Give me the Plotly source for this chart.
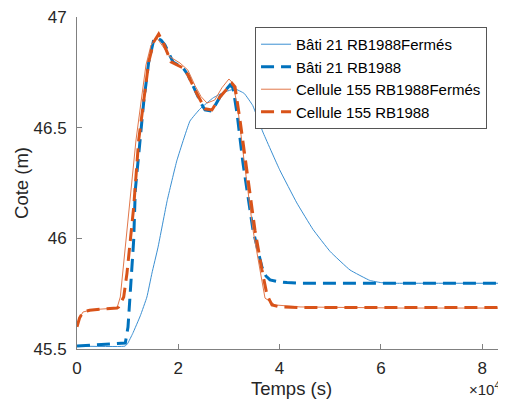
import plotly.graph_objects as go

# time in units of 1e4 s
t_bati_fermes = [0, 0.948, 1.0, 1.1, 1.25, 1.38, 1.48, 1.6, 1.78, 1.97, 2.23, 2.43, 2.69, 2.9, 3.12, 3.3, 3.47, 3.67, 4.0, 4.34, 4.66, 5.0, 5.39, 5.78, 6.0, 6.24, 7.0, 8.47]
y_bati_fermes = [45.513, 45.513, 45.525, 45.57, 45.65, 45.735, 45.843, 45.96, 46.17, 46.35, 46.53, 46.585, 46.635, 46.66, 46.675, 46.655, 46.6, 46.48, 46.31, 46.16, 46.04, 45.94, 45.857, 45.81, 45.8, 45.797, 45.797, 45.797]

t_bati = [0, 0.954, 1.007, 1.052, 1.086, 1.119, 1.151, 1.25, 1.317, 1.416, 1.514, 1.56, 1.66, 1.737, 1.895, 2.093, 2.191, 2.33, 2.45, 2.527, 2.665, 2.823, 3.021, 3.08, 3.159, 3.277, 3.475, 3.652, 3.73, 3.81, 3.95, 4.146, 4.403, 8.47]
y_bati = [45.513, 45.527, 45.599, 45.766, 45.88, 45.992, 46.218, 46.444, 46.616, 46.797, 46.896, 46.908, 46.895, 46.873, 46.797, 46.77, 46.738, 46.67, 46.61, 46.58, 46.575, 46.639, 46.693, 46.679, 46.566, 46.34, 46.037, 45.87, 45.83, 45.812, 45.805, 45.8, 45.797, 45.797]

t_cell_fermes = [0, 0.05, 0.118, 0.25, 0.454, 0.79, 0.855, 0.908, 0.967, 1.066, 1.165, 1.264, 1.362, 1.461, 1.579, 1.678, 1.836, 2.034, 2.19, 2.33, 2.45, 2.567, 2.72, 2.86, 3.0, 3.08, 3.18, 3.297, 3.475, 3.613, 3.712, 3.909, 4.403, 6.377, 8.47]
y_cell_fermes = [45.6, 45.64, 45.667, 45.675, 45.68, 45.685, 45.735, 45.857, 45.992, 46.218, 46.444, 46.616, 46.783, 46.873, 46.905, 46.873, 46.82, 46.792, 46.76, 46.69, 46.64, 46.611, 46.625, 46.68, 46.72, 46.70, 46.58, 46.354, 46.037, 45.857, 45.73, 45.699, 45.69, 45.685, 45.685]

t_cell = [0, 0.05, 0.118, 0.25, 0.454, 0.79, 0.823, 0.922, 0.987, 1.052, 1.119, 1.218, 1.317, 1.416, 1.514, 1.613, 1.698, 1.777, 1.856, 2.093, 2.191, 2.33, 2.527, 2.665, 2.823, 3.06, 3.12, 3.218, 3.336, 3.514, 3.652, 3.751, 3.85, 4.0, 4.4, 8.47]
y_cell = [45.6, 45.64, 45.667, 45.675, 45.68, 45.685, 45.69, 45.735, 45.843, 45.992, 46.141, 46.444, 46.616, 46.797, 46.887, 46.923, 46.887, 46.842, 46.797, 46.77, 46.738, 46.67, 46.585, 46.58, 46.639, 46.70, 46.684, 46.535, 46.331, 46.037, 45.857, 45.744, 45.699, 45.69, 45.687, 45.687]

x_ticks = [0, 2, 4, 6, 8]
y_ticks = [45.5, 46, 46.5, 47]

BLUE = "#0072BD"
ORANGE = "#D95319"
BLUE_THIN = "#3a8fd2"
ORANGE_THIN = "#e2774a"
FONT = "Liberation Sans, Arial, sans-serif"
AX = "#262626"

def sc(ts):
    return [v * 1e4 for v in ts]

fig = go.Figure()
fig.add_trace(go.Scatter(x=sc(t_bati_fermes), y=y_bati_fermes, mode="lines",
                         name="Bâti 21 RB1988Fermés", line=dict(color=BLUE_THIN, width=1, shape="spline", smoothing=0.3)))
fig.add_trace(go.Scatter(x=sc(t_bati), y=y_bati, mode="lines",
                         name="Bâti 21 RB1988", line=dict(color=BLUE, width=3, dash="13px,7px")))
fig.add_trace(go.Scatter(x=sc(t_cell_fermes), y=y_cell_fermes, mode="lines",
                         name="Cellule 155 RB1988Fermés", line=dict(color=ORANGE_THIN, width=1)))
fig.add_trace(go.Scatter(x=sc(t_cell), y=y_cell, mode="lines",
                         name="Cellule 155 RB1988", line=dict(color=ORANGE, width=3, dash="13px,7px")))

fig.update_layout(
    width=498, height=393,
    margin=dict(l=69, r=0, t=9, b=52),
    paper_bgcolor="white", plot_bgcolor="white",
    font=dict(family=FONT, size=17, color=AX),
    showlegend=True,
    legend=dict(x=0.415, y=0.97, xanchor="left", yanchor="top",
                bgcolor="white", bordercolor="#555555", borderwidth=1,
                font=dict(size=15, color="#000000"), tracegroupgap=0,
                itemwidth=30),
    xaxis=dict(range=[0, 84700], tickvals=[v * 1e4 for v in x_ticks],
               ticktext=[str(v) for v in x_ticks], automargin=False,
               ticks="inside", ticklen=5, tickcolor="#808080",
               showline=True, linecolor="#808080", linewidth=1,
               showgrid=False, zeroline=False, mirror=False,
               ticklabelstandoff=4, ticklabeloverflow="allow",
               title=dict(text="Temps (s)", font=dict(size=18.5), standoff=1)),
    yaxis=dict(range=[45.5, 47], tickvals=y_ticks,
               ticktext=["45.5", "46", "46.5", "47"], automargin=False,
               ticks="inside", ticklen=5, tickcolor="#808080",
               showline=True, linecolor="#808080", linewidth=1,
               showgrid=False, zeroline=False, mirror=False,
               ticklabelstandoff=6, ticklabeloverflow="allow",
               title=dict(text="Cote (m)", font=dict(size=18.5), standoff=0)),
)

fig.add_annotation(text="×10<sup>4</sup>", xref="paper", yref="paper",
                   x=0.909, y=0, xanchor="left", yanchor="middle", yshift=-39,
                   showarrow=False, font=dict(size=15, color=AX))

fig.write_html("out.html")
